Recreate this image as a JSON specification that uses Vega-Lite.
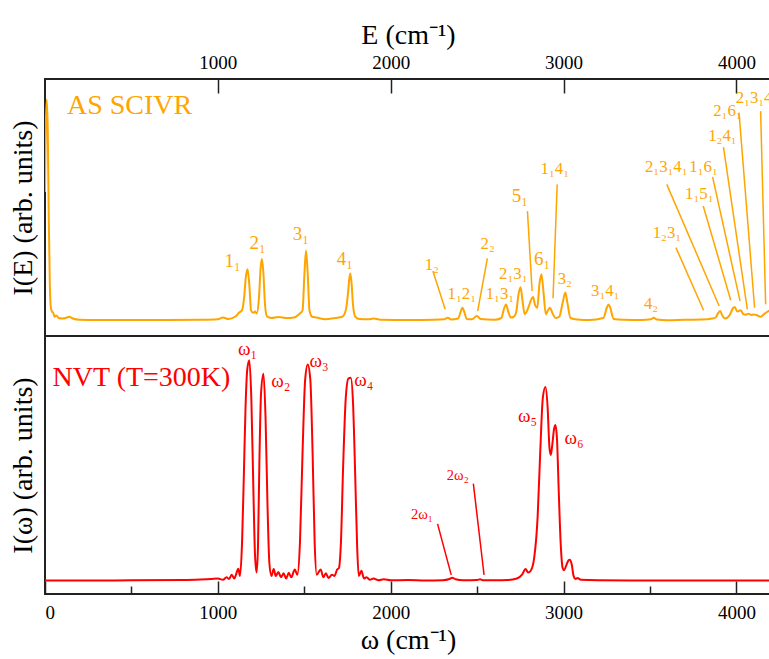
{
  "$schema": "https://vega.github.io/schema/vega-lite/v6.json",
  "padding": {"left": 8, "top": 20, "right": 0, "bottom": 0},
  "background": "white",
  "bounds": "flush",
  "config": {
    "font": "Liberation Serif",
    "view": {"stroke": "#222222", "strokeWidth": 2},
    "axis": {"labelFont": "Liberation Serif", "titleFont": "Liberation Serif", "titleFontWeight": "normal", "labelColor": "#000", "titleColor": "#000", "grid": false, "domain": false, "tickColor": "#222222", "tickWidth": 1.5, "zindex": 1, "format": "d"}
  },
  "spacing": 0,
  "vconcat": [
    {
      "width": 726,
      "height": 257,
      "layer": [
        {
          "data": {"values": [
            {"w":0,"i":0.56},{"w":4,"i":0.8},{"w":10,"i":0.92},{"w":16,"i":0.8},{"w":22,"i":0.45},{"w":28,"i":0.2},{"w":34,"i":0.11},{"w":40,"i":0.095},{"w":48,"i":0.09},{"w":55,"i":0.075},{"w":65,"i":0.08},{"w":80,"i":0.07},{"w":100,"i":0.068},{"w":120,"i":0.07},{"w":140,"i":0.075},{"w":160,"i":0.068},{"w":200,"i":0.063},{"w":300,"i":0.062},{"w":500,"i":0.062},{"w":700,"i":0.062},{"w":900,"i":0.063},{"w":1000,"i":0.065},{"w":1030,"i":0.072},{"w":1060,"i":0.066},{"w":1100,"i":0.075},{"w":1125,"i":0.092},{"w":1140,"i":0.1},{"w":1152,"i":0.15},{"w":1162,"i":0.23},{"w":1172,"i":0.26},{"w":1182,"i":0.2},{"w":1192,"i":0.1},{"w":1205,"i":0.09},{"w":1215,"i":0.095},{"w":1225,"i":0.088},{"w":1238,"i":0.15},{"w":1248,"i":0.27},{"w":1255,"i":0.3},{"w":1263,"i":0.25},{"w":1273,"i":0.12},{"w":1285,"i":0.075},{"w":1310,"i":0.07},{"w":1350,"i":0.074},{"w":1400,"i":0.07},{"w":1440,"i":0.072},{"w":1470,"i":0.085},{"w":1490,"i":0.1},{"w":1500,"i":0.23},{"w":1510,"i":0.333},{"w":1520,"i":0.24},{"w":1530,"i":0.1},{"w":1545,"i":0.075},{"w":1570,"i":0.072},{"w":1620,"i":0.065},{"w":1680,"i":0.07},{"w":1720,"i":0.075},{"w":1740,"i":0.1},{"w":1752,"i":0.16},{"w":1760,"i":0.22},{"w":1766,"i":0.243},{"w":1773,"i":0.21},{"w":1782,"i":0.12},{"w":1795,"i":0.075},{"w":1820,"i":0.066},{"w":1870,"i":0.065},{"w":1900,"i":0.068},{"w":1950,"i":0.063},{"w":2100,"i":0.062},{"w":2250,"i":0.063},{"w":2310,"i":0.065},{"w":2330,"i":0.071},{"w":2350,"i":0.064},{"w":2390,"i":0.068},{"w":2405,"i":0.095},{"w":2415,"i":0.11},{"w":2425,"i":0.095},{"w":2440,"i":0.066},{"w":2470,"i":0.065},{"w":2498,"i":0.078},{"w":2520,"i":0.066},{"w":2600,"i":0.063},{"w":2640,"i":0.07},{"w":2655,"i":0.105},{"w":2667,"i":0.123},{"w":2680,"i":0.095},{"w":2695,"i":0.072},{"w":2710,"i":0.074},{"w":2725,"i":0.09},{"w":2740,"i":0.165},{"w":2751,"i":0.19},{"w":2762,"i":0.14},{"w":2775,"i":0.085},{"w":2790,"i":0.1},{"w":2815,"i":0.145},{"w":2824,"i":0.152},{"w":2835,"i":0.12},{"w":2848,"i":0.11},{"w":2860,"i":0.2},{"w":2872,"i":0.24},{"w":2884,"i":0.17},{"w":2897,"i":0.085},{"w":2910,"i":0.1},{"w":2922,"i":0.11},{"w":2935,"i":0.09},{"w":2955,"i":0.07},{"w":2975,"i":0.075},{"w":2995,"i":0.13},{"w":3010,"i":0.169},{"w":3022,"i":0.13},{"w":3040,"i":0.07},{"w":3080,"i":0.064},{"w":3150,"i":0.062},{"w":3230,"i":0.07},{"w":3250,"i":0.11},{"w":3260,"i":0.123},{"w":3270,"i":0.11},{"w":3290,"i":0.066},{"w":3350,"i":0.063},{"w":3450,"i":0.062},{"w":3505,"i":0.065},{"w":3522,"i":0.071},{"w":3540,"i":0.064},{"w":3600,"i":0.061},{"w":3700,"i":0.063},{"w":3800,"i":0.064},{"w":3860,"i":0.068},{"w":3880,"i":0.072},{"w":3895,"i":0.09},{"w":3906,"i":0.097},{"w":3918,"i":0.08},{"w":3935,"i":0.068},{"w":3960,"i":0.08},{"w":3980,"i":0.108},{"w":3990,"i":0.113},{"w":4005,"i":0.095},{"w":4025,"i":0.1},{"w":4040,"i":0.085},{"w":4055,"i":0.083},{"w":4070,"i":0.087},{"w":4085,"i":0.082},{"w":4100,"i":0.084},{"w":4115,"i":0.082},{"w":4140,"i":0.075},{"w":4160,"i":0.085},{"w":4180,"i":0.095},{"w":4200,"i":0.1}
          ]},
          "mark": {"type": "line", "color": "#FFA500", "strokeWidth": 2, "interpolate": "monotone", "clip": true},
          "encoding": {
            "x": {"field": "w", "type": "quantitative", "scale": {"domain": [0, 4200], "nice": false, "zero": false},
              "axis": {"orient": "top", "values": [1000, 2000, 3000, 4000], "offset": -14, "tickSize": 14, "labelPadding": 7, "labelFontSize": 19, "title": "E (cm⁻¹)", "titleFontSize": 28, "titlePadding": 4}},
            "y": {"field": "i", "type": "quantitative", "scale": {"domain": [0, 1], "nice": false, "zero": false},
              "axis": {"title": "I(E) (arb. units)", "labels": false, "ticks": false, "titleFontSize": 28, "titlePadding": 8}}
          }
        },
        {
          "data": {"values": [
            {"x1":2244,"y1":0.253,"x2":2315,"y2":0.104},
            {"x1":2559,"y1":0.302,"x2":2503,"y2":0.097},
            {"x1":2791,"y1":0.486,"x2":2818,"y2":0.175},
            {"x1":2963,"y1":0.59,"x2":2939,"y2":0.147},
            {"x1":3650,"y1":0.344,"x2":3810,"y2":0.1},
            {"x1":3597,"y1":0.59,"x2":3900,"y2":0.117},
            {"x1":3808,"y1":0.506,"x2":3967,"y2":0.139},
            {"x1":3862,"y1":0.619,"x2":4021,"y2":0.136},
            {"x1":3925,"y1":0.735,"x2":4063,"y2":0.104},
            {"x1":4015,"y1":0.869,"x2":4105,"y2":0.11},
            {"x1":4140,"y1":0.875,"x2":4169,"y2":0.123}
          ]},
          "mark": {"type": "rule", "color": "#FFA500", "strokeWidth": 1.5},
          "encoding": {
            "x": {"field": "x1", "type": "quantitative"},
            "y": {"field": "y1", "type": "quantitative"},
            "x2": {"field": "x2"},
            "y2": {"field": "y2"}
          }
        },
        {
          "data": {"values": [
            {"label":"1₁","x":1085,"y":0.292,"kind":"fundamental"},
            {"label":"2₁","x":1229,"y":0.363,"kind":"fundamental"},
            {"label":"3₁","x":1480,"y":0.396,"kind":"fundamental"},
            {"label":"4₁","x":1735,"y":0.298,"kind":"fundamental"},
            {"label":"5₁","x":2747,"y":0.545,"kind":"fundamental"},
            {"label":"6₁","x":2876,"y":0.298,"kind":"fundamental"},
            {"label":"1₂","x":2238,"y":0.276,"kind":"combination"},
            {"label":"1₁2₁","x":2411,"y":0.165,"kind":"combination"},
            {"label":"2₂","x":2561,"y":0.357,"kind":"combination"},
            {"label":"1₁3₁","x":2632,"y":0.165,"kind":"combination"},
            {"label":"2₁3₁","x":2709,"y":0.24,"kind":"combination"},
            {"label":"1₁4₁","x":2949,"y":0.649,"kind":"combination"},
            {"label":"3₂","x":3007,"y":0.22,"kind":"combination"},
            {"label":"3₁4₁","x":3241,"y":0.175,"kind":"combination"},
            {"label":"4₂","x":3506,"y":0.123,"kind":"combination"},
            {"label":"1₂3₁","x":3598,"y":0.402,"kind":"combination"},
            {"label":"2₁3₁4₁","x":3594,"y":0.658,"kind":"combination"},
            {"label":"1₁5₁","x":3785,"y":0.551,"kind":"combination"},
            {"label":"1₁6₁","x":3810,"y":0.658,"kind":"combination"},
            {"label":"1₂4₁","x":3919,"y":0.778,"kind":"combination"},
            {"label":"2₁6₁","x":3948,"y":0.875,"kind":"combination"},
            {"label":"2₁3₁4₁","x":4119,"y":0.925,"kind":"combination"}
          ]},
          "mark": {"type": "text", "color": "#FFA500", "align": "center", "baseline": "middle"},
          "encoding": {
            "x": {"field": "x", "type": "quantitative"},
            "y": {"field": "y", "type": "quantitative"},
            "text": {"field": "label"},
            "size": {"field": "kind", "type": "nominal", "scale": {"domain": ["fundamental", "combination"], "range": [19, 14.5]}, "legend": null}
          }
        },
        {
          "data": {"values": [{"label": "AS SCIVR", "x": 127, "y": 0.895}]},
          "mark": {"type": "text", "color": "#FFA500", "align": "left", "baseline": "middle", "fontSize": 28},
          "encoding": {
            "x": {"field": "x", "type": "quantitative"},
            "y": {"field": "y", "type": "quantitative"},
            "text": {"field": "label"}
          }
        }
      ]
    },
    {
      "width": 726,
      "height": 258,
      "resolve": {"axis": {"x": "independent"}},
      "layer": [
        {
          "data": {"values": [
            {"w":0,"i":0.052},{"w":200,"i":0.052},{"w":500,"i":0.053},{"w":800,"i":0.054},{"w":900,"i":0.056},{"w":960,"i":0.058},{"w":1000,"i":0.06},{"w":1030,"i":0.055},{"w":1050,"i":0.065},{"w":1065,"i":0.058},{"w":1080,"i":0.075},{"w":1095,"i":0.06},{"w":1105,"i":0.075},{"w":1118,"i":0.098},{"w":1128,"i":0.07},{"w":1140,"i":0.2},{"w":1150,"i":0.45},{"w":1160,"i":0.72},{"w":1170,"i":0.87},{"w":1182,"i":0.906},{"w":1194,"i":0.75},{"w":1205,"i":0.42},{"w":1215,"i":0.15},{"w":1224,"i":0.083},{"w":1232,"i":0.18},{"w":1240,"i":0.5},{"w":1250,"i":0.78},{"w":1264,"i":0.854},{"w":1276,"i":0.68},{"w":1287,"i":0.35},{"w":1298,"i":0.12},{"w":1310,"i":0.07},{"w":1323,"i":0.097},{"w":1335,"i":0.07},{"w":1350,"i":0.085},{"w":1365,"i":0.065},{"w":1380,"i":0.08},{"w":1395,"i":0.06},{"w":1410,"i":0.082},{"w":1425,"i":0.065},{"w":1445,"i":0.095},{"w":1460,"i":0.075},{"w":1475,"i":0.2},{"w":1490,"i":0.55},{"w":1505,"i":0.83},{"w":1520,"i":0.89},{"w":1535,"i":0.83},{"w":1548,"i":0.55},{"w":1560,"i":0.2},{"w":1572,"i":0.075},{"w":1595,"i":0.095},{"w":1610,"i":0.065},{"w":1625,"i":0.08},{"w":1640,"i":0.062},{"w":1660,"i":0.075},{"w":1675,"i":0.07},{"w":1690,"i":0.095},{"w":1700,"i":0.1},{"w":1712,"i":0.2},{"w":1725,"i":0.5},{"w":1740,"i":0.76},{"w":1755,"i":0.835},{"w":1769,"i":0.838},{"w":1782,"i":0.74},{"w":1795,"i":0.45},{"w":1806,"i":0.18},{"w":1815,"i":0.07},{"w":1831,"i":0.09},{"w":1845,"i":0.06},{"w":1860,"i":0.065},{"w":1880,"i":0.055},{"w":1900,"i":0.06},{"w":1930,"i":0.053},{"w":1960,"i":0.057},{"w":2000,"i":0.053},{"w":2100,"i":0.054},{"w":2200,"i":0.052},{"w":2300,"i":0.053},{"w":2340,"i":0.058},{"w":2357,"i":0.063},{"w":2375,"i":0.057},{"w":2420,"i":0.053},{"w":2500,"i":0.054},{"w":2517,"i":0.057},{"w":2535,"i":0.053},{"w":2600,"i":0.053},{"w":2680,"i":0.054},{"w":2730,"i":0.06},{"w":2760,"i":0.075},{"w":2780,"i":0.097},{"w":2795,"i":0.083},{"w":2810,"i":0.09},{"w":2830,"i":0.14},{"w":2850,"i":0.3},{"w":2865,"i":0.55},{"w":2880,"i":0.76},{"w":2895,"i":0.802},{"w":2908,"i":0.72},{"w":2918,"i":0.57},{"w":2926,"i":0.539},{"w":2935,"i":0.58},{"w":2945,"i":0.64},{"w":2953,"i":0.655},{"w":2962,"i":0.6},{"w":2972,"i":0.4},{"w":2983,"i":0.2},{"w":2995,"i":0.1},{"w":3003,"i":0.092},{"w":3015,"i":0.11},{"w":3028,"i":0.13},{"w":3036,"i":0.133},{"w":3047,"i":0.115},{"w":3058,"i":0.07},{"w":3070,"i":0.058},{"w":3080,"i":0.062},{"w":3100,"i":0.055},{"w":3200,"i":0.053},{"w":3500,"i":0.052},{"w":4200,"i":0.052}
          ]},
          "mark": {"type": "line", "color": "#FF0000", "strokeWidth": 2, "interpolate": "monotone", "clip": true},
          "encoding": {
            "x": {"field": "w", "type": "quantitative", "scale": {"domain": [0, 4200], "nice": false, "zero": false},
              "axis": {"orient": "bottom", "values": [0, 1000, 2000, 3000, 4000], "offset": -13, "tickSize": 13, "labelPadding": 9, "labelFontSize": 19, "title": "ω (cm⁻¹)", "titleFontSize": 28, "titlePadding": 4}},
            "y": {"field": "i", "type": "quantitative", "scale": {"domain": [0, 1], "nice": false, "zero": false},
              "axis": {"title": "I(ω) (arb. units)", "labels": false, "ticks": false, "titleFontSize": 28, "titlePadding": 8}}
          }
        },
        {
          "data": {"values": [
            {"x1":2271,"y1":0.272,"x2":2350,"y2":0.074},
            {"x1":2478,"y1":0.428,"x2":2540,"y2":0.074}
          ]},
          "mark": {"type": "rule", "color": "#FF0000", "strokeWidth": 1.5},
          "encoding": {
            "x": {"field": "x1", "type": "quantitative",
              "axis": {"orient": "bottom", "values": [500, 1500, 2500, 3500], "offset": -8, "tickSize": 8, "labels": false, "title": null}},
            "y": {"field": "y1", "type": "quantitative"},
            "x2": {"field": "x2"},
            "y2": {"field": "y2"}
          }
        },
        {
          "data": {"values": [
            {"label":"ω₁","x":1172,"y":0.948,"kind":"fundamental"},
            {"label":"ω₂","x":1364,"y":0.826,"kind":"fundamental"},
            {"label":"ω₃","x":1585,"y":0.903,"kind":"fundamental"},
            {"label":"ω₄","x":1844,"y":0.828,"kind":"fundamental"},
            {"label":"ω₅","x":2791,"y":0.69,"kind":"fundamental"},
            {"label":"ω₆","x":3061,"y":0.606,"kind":"fundamental"},
            {"label":"2ω₁","x":2181,"y":0.306,"kind":"overtone"},
            {"label":"2ω₂","x":2388,"y":0.457,"kind":"overtone"}
          ]},
          "mark": {"type": "text", "color": "#FF0000", "align": "center", "baseline": "middle"},
          "encoding": {
            "x": {"field": "x", "type": "quantitative", "axis": null},
            "y": {"field": "y", "type": "quantitative"},
            "text": {"field": "label"},
            "size": {"field": "kind", "type": "nominal", "scale": {"domain": ["fundamental", "overtone"], "range": [22, 16]}, "legend": null}
          }
        },
        {
          "data": {"values": [{"label": "NVT (T=300K)", "x": 44, "y": 0.838}]},
          "mark": {"type": "text", "color": "#FF0000", "align": "left", "baseline": "middle", "fontSize": 28},
          "encoding": {
            "x": {"field": "x", "type": "quantitative", "axis": null},
            "y": {"field": "y", "type": "quantitative"},
            "text": {"field": "label"}
          }
        }
      ]
    }
  ]
}
